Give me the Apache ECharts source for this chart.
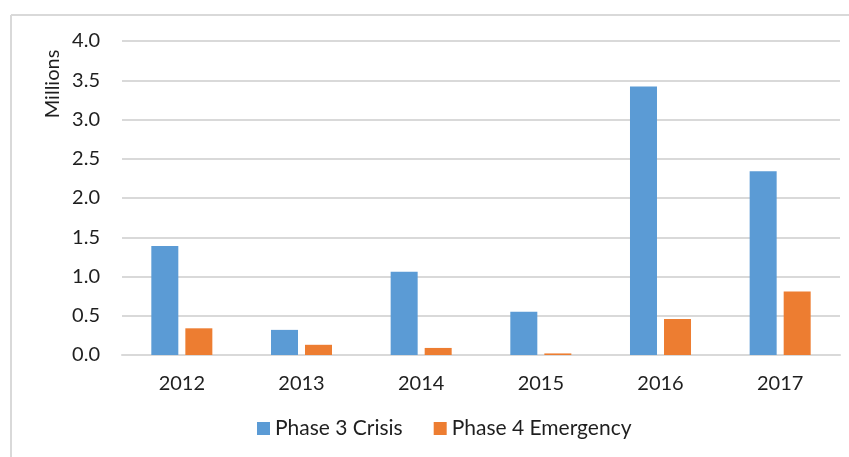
<!DOCTYPE html>
<html>
<head>
    <meta charset="utf-8">
    <title>Phase 3 / Phase 4</title>
    <script src="https://cdn.jsdelivr.net/npm/echarts@6/dist/echarts.min.js"></script>
    <style>
        html, body { margin: 0; padding: 0; background: #fff; }
        #main { width: 849px; height: 457px; }
    </style>
</head>
<body>
<div id="main"></div>
<script>
// 数据
const years = ['2012', '2013', '2014', '2015', '2016', '2017'];
const phase3 = [1.39, 0.32, 1.06, 0.55, 3.42, 2.34];
const phase4 = [0.34, 0.13, 0.09, 0.02, 0.46, 0.81];
const seriesNames = ['Phase 3 Crisis', 'Phase 4 Emergency'];

const font = 'Lato, "Open Sans", sans-serif';
const txt = '#1f1f1f';
const chart = echarts.init(document.getElementById('main'));

chart.setOption({
    animation: false,
    textStyle: { fontFamily: font },
    grid: { left: 122, right: 9, top: 41, bottom: 102, containLabel: false },
    graphic: [
        // 外框（只看得到上边和左边）
        { type: 'line', shape: { x1: 11, y1: 15, x2: 849, y2: 15 }, style: { stroke: '#d9d9d9', lineWidth: 2 } },
        { type: 'line', shape: { x1: 11, y1: 15, x2: 11, y2: 457 }, style: { stroke: '#d9d9d9', lineWidth: 2 } },
        {
            type: 'text', x: 53, y: 84, rotation: Math.PI / 2,
            style: { text: 'Millions', fill: txt, font: '20px ' + font, textAlign: 'center', textVerticalAlign: 'middle' }
        }
    ],
    legend: {
        bottom: 13,
        left: 252,
        itemWidth: 13,
        itemHeight: 13,
        itemGap: 31,
        icon: 'rect',
        textStyle: { fontSize: 21, color: txt, fontFamily: font },
        data: seriesNames
    },
    xAxis: {
        type: 'category',
        data: years,
        axisLine: { lineStyle: { color: '#d9d9d9', width: 2 } },
        axisTick: { show: false },
        axisLabel: { fontSize: 20, color: txt, margin: 19 }
    },
    yAxis: {
        type: 'value',
        min: 0,
        max: 4,
        interval: 0.5,
        axisLine: { show: false },
        axisTick: { show: false },
        splitLine: { lineStyle: { color: '#d9d9d9', width: 2 } },
        axisLabel: {
            fontSize: 20, color: txt, margin: 22,
            formatter: v => v.toFixed(1)
        }
    },
    series: [
        {
            name: seriesNames[0], type: 'bar', data: phase3,
            barWidth: 27, barGap: '26%',
            itemStyle: { color: '#5b9bd5' }
        },
        {
            name: seriesNames[1], type: 'bar', data: phase4,
            barWidth: 27, barGap: '26%',
            itemStyle: { color: '#ed7d31' }
        }
    ]
});
</script>
</body>
</html>
